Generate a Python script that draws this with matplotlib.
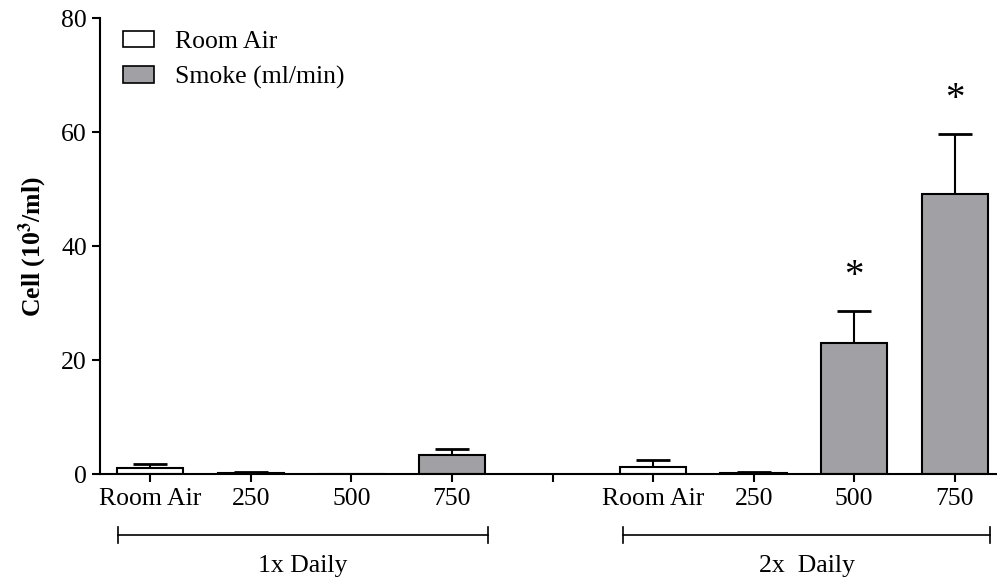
import matplotlib.pyplot as plt
from matplotlib.patches import Patch
from matplotlib.transforms import blended_transform_factory

plt.rcParams['font.family'] = ['Liberation Serif', 'DejaVu Serif']
plt.rcParams['mathtext.fontset'] = 'stix'

# bar order: 1x daily (room air, 250, 500, 750), gap, 2x daily (room air, 250, 500, 750)
positions = [0, 1, 2, 3, 5, 6, 7, 8]
tick_labels = ['Room Air', '250', '500', '750', 'Room Air', '250', '500', '750']
means = [1.2, 0.3, 0.1, 3.4, 1.4, 0.3, 23.0, 49.1]
sem = [0.6, 0.15, 0.05, 1.0, 1.2, 0.15, 5.6, 10.6]
is_smoke = [False, True, True, True, False, True, True, True]
significant = [False, False, False, False, False, False, True, True]
groups = ['1x Daily', '2x  Daily']

gray = '#a1a1a5'
fs = 18.5

fig = plt.figure(figsize=(9.97, 5.79), dpi=100)
ax = fig.add_axes([0.1003, 0.1805, 0.8997, 0.7884])

colors = [gray if s else 'white' for s in is_smoke]
ax.bar(positions, means, width=0.66, color=colors, edgecolor='black', linewidth=1.5, zorder=2)
ax.errorbar(positions, means, yerr=[[0] * len(sem), sem], fmt='none', ecolor='black',
            elinewidth=1.5, capsize=12, capthick=2, zorder=1)

# significance stars
for x, m, e, sig in zip(positions, means, sem, significant):
    if sig:
        ax.text(x, m + e + 2.8, '*', ha='center', va='bottom', fontsize=28)

ax.set_xlim(-0.5, 8.42)
ax.set_ylim(0, 80)
ax.set_yticks([0, 20, 40, 60, 80])
ax.set_xticks([0, 1, 2, 3, 4, 5, 6, 7, 8])
ax.set_xticklabels(tick_labels[:4] + [''] + tick_labels[4:])
ax.tick_params(axis='both', labelsize=fs, width=1.5, length=6, direction='out')
for side in ['top', 'right']:
    ax.spines[side].set_visible(False)
for side in ['left', 'bottom']:
    ax.spines[side].set_linewidth(1.5)

ax.set_ylabel('Cell (10$^{\\bf 3}$/ml)', fontsize=fs, fontweight='bold', labelpad=9)

# group brackets under the axis
trans = blended_transform_factory(ax.transData, ax.transAxes)
for (x0, x1), name in zip([(-0.32, 3.36), (4.7, 8.35)], groups):
    ax.plot([x0, x1], [-0.1325, -0.1325], color='black', lw=1.2, transform=trans, clip_on=False)
    for xe in (x0, x1):
        ax.plot([xe, xe], [-0.15, -0.115], color='black', lw=1.2, transform=trans, clip_on=False)
    ax.text((x0 + x1) / 2, -0.2, name, ha='center', va='center', fontsize=fs,
            transform=trans)

handles = [Patch(facecolor='white', edgecolor='black', linewidth=1.2, label='Room Air'),
           Patch(facecolor=gray, edgecolor='black', linewidth=1.2, label='Smoke (ml/min)')]
ax.legend(handles=handles, loc='upper left', bbox_to_anchor=(0.011, 1.0), frameon=False,
          fontsize=fs, handlelength=1.2, handleheight=0.6, labelspacing=0.5,
          handletextpad=0.85, borderaxespad=0.1)

fig.savefig('out.png', dpi=100)
